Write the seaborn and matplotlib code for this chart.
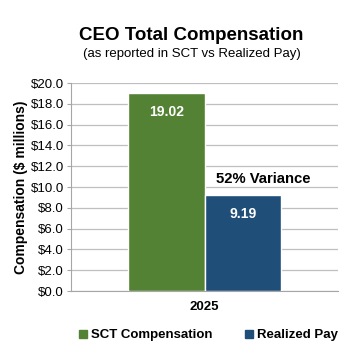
import numpy as np
import pandas as pd
import seaborn as sns
from matplotlib import pyplot as plt
from matplotlib.ticker import FuncFormatter

# data
years = ['2025']
series = ['SCT Compensation', 'Realized Pay']
values = [19.02, 9.19]
colors = ['#548235', '#1F4E79']

df = pd.DataFrame({'year': years * len(series), 'series': series, 'value': values})

sns.set_style('white')
plt.rcParams['font.family'] = ['Liberation Sans', 'DejaVu Sans']
plt.rcParams['text.color'] = 'black'
plt.rcParams['axes.labelcolor'] = 'black'
plt.rcParams['xtick.color'] = 'black'
plt.rcParams['ytick.color'] = 'black'

fig = plt.figure(figsize=(3.62, 3.58), dpi=100)
ax = fig.add_axes([0.196, 0.187, 0.738, 0.581])

sns.barplot(data=df, x='year', y='value', hue='series', palette=colors,
            width=0.575, saturation=1, ax=ax, legend=False, zorder=3)

ax.set_ylim(0, 20)
ax.set_yticks(np.arange(0, 20.1, 2))
ax.yaxis.set_major_formatter(FuncFormatter(lambda v, p: '${:.1f}'.format(v)))
ax.grid(axis='y', color='#BFBFBF', linewidth=0.9, zorder=0)
ax.set_xlim(-0.5, 0.5)
for s in ['top', 'right']:
    ax.spines[s].set_visible(False)
for s in ['left', 'bottom']:
    ax.spines[s].set_color('#A6A6A6')
ax.tick_params(axis='y', left=True, length=3, color='#A6A6A6', labelsize=9.5, pad=2)
ax.tick_params(axis='x', bottom=False, labelsize=9.5, pad=4)
for lab in ax.get_xticklabels():
    lab.set_fontweight('bold')
ax.set_xlabel('')
ax.set_ylabel('Compensation ($ millions)', fontsize=10, fontweight='bold', labelpad=2)

for bars in ax.containers:
    for b in bars:
        h = b.get_height()
        ax.text(b.get_x() + b.get_width() / 2, h - 1.8, '{:.2f}'.format(h),
                ha='center', va='center', color='white', fontsize=10,
                fontweight='bold', zorder=5)

blue = ax.containers[1][0]
ax.text(blue.get_x() + blue.get_width() / 2 + 0.075, values[1] + 1.6, '52% Variance',
        ha='center', va='center', fontsize=10.7, fontweight='bold', zorder=5)

fig.text(0.529, 0.902, 'CEO Total Compensation', ha='center', va='center',
         fontsize=13.5, fontweight='bold')
fig.text(0.529, 0.848, '(as reported in SCT vs Realized Pay)', ha='center',
         va='center', fontsize=9.5)

handles = [plt.Line2D([], [], marker='s', linestyle='', color=c, markersize=5.5)
           for c in colors]
leg = fig.legend(handles, series, loc='center', bbox_to_anchor=(0.57, 0.064),
                 ncol=2, frameon=False, fontsize=9.5, handletextpad=0.0,
                 columnspacing=2.2, handlelength=1.2)
for t in leg.get_texts():
    t.set_fontweight('bold')

fig.savefig('out.png', dpi=100)
